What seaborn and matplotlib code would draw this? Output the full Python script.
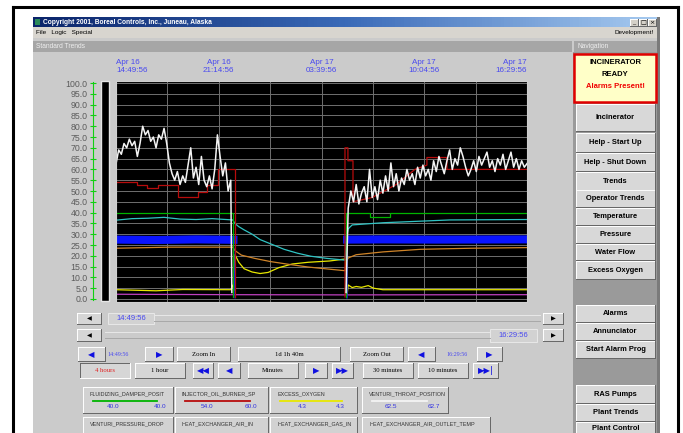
import numpy as np
import pandas as pd
import matplotlib
matplotlib.use('Agg')
import matplotlib.pyplot as plt
from matplotlib.patches import Rectangle
from matplotlib.lines import Line2D
from matplotlib.colors import LinearSegmentedColormap
import matplotlib.transforms as mtrans
import seaborn as sns

# trend samples, minutes after Apr 16 14:49:56 (window = 1d 1h 40m)
white_t1 = list(range(0, 440, 10)) + [434]
white_v1 = [62.5, 69, 67, 72, 70, 74, 71, 73, 66, 72,
            80, 76, 78, 73, 75, 70, 76, 74, 79, 72,
            63, 58, 55, 59, 53, 57, 54, 62, 70, 56,
            61, 53, 66, 55, 52, 57, 51, 60, 76, 66,
            57, 63, 50, 55, 3]
white_t2 = [862] + list(range(870, 1550, 10))
white_v2 = [3, 42, 50, 45, 53, 44, 49, 52, 45, 60, 47,
            52, 46, 55, 49, 57, 50, 63, 52, 58, 50,
            56, 53, 60, 55, 58, 53, 61, 56, 62, 57,
            60, 55, 64, 59, 66, 62, 58, 64, 69, 60,
            65, 62, 70, 66, 61, 57, 60, 64, 59, 66,
            62, 65, 68, 61, 64, 59, 65, 62, 67, 60,
            64, 68, 61, 65, 60, 64, 61, 62.7]

red_t1 = [0, 79, 79, 116, 116, 157, 157, 232, 232, 307, 307, 341, 341, 382, 382, 446, 446]
red_v1 = [54, 54, 53, 53, 51.5, 51.5, 53, 53, 47, 47, 49.5, 49.5, 53, 53, 60, 60, 1]
red_t2 = [858, 858, 869, 869, 888, 888, 960, 1050, 1120, 1165, 1165, 1240, 1240, 1540]
red_v2 = [1, 70, 70, 64, 64, 45, 47, 53, 60, 62, 65.5, 65.5, 60, 60]

green_t1 = [0, 438, 438]
green_v1 = [40, 40, 1]
green_t2 = [862, 862, 952, 952, 1027, 1027, 1540]
green_v2 = [1, 40, 40, 38, 38, 40, 40]

cyan_t = [0, 60, 120, 180, 240, 300, 360, 438, 445, 460, 480, 510, 540, 580, 630, 680,
          730, 790, 858, 864, 870, 885, 1000, 1250, 1540]
cyan_v = [36.5, 37.2, 37.4, 37.8, 37.0, 36.8, 37.2, 36.6, 35, 33.5, 32, 30, 27.5, 25.5, 23, 21.2,
          19.8, 18.8, 18, 28, 32.5, 34.3, 35.3, 36.6, 36.8]

blue_t1 = [0, 150, 300, 440, 446]
blue_v1 = [27.5, 27.3, 27.6, 27.4, 0.5]
blue_t2 = [866, 866, 1000, 1200, 1540]
blue_v2 = [0.5, 27.5, 27.6, 27.5, 27.6]

orange_t = [0, 200, 438, 445, 470, 520, 580, 650, 720, 800, 858, 862, 870, 900, 1000, 1140, 1330, 1540]
orange_v = [23.5, 24, 24, 22.5, 20.3, 18.8, 17.3, 16, 14.8, 13.8, 13.1, 17, 19, 20.5, 21.8, 23, 23.5, 23.8]

yellow_t = [0, 150, 250, 430, 438, 442, 446, 460, 480, 510, 540, 570, 610, 660, 720, 800, 858,
            862, 866, 870, 885, 900, 920, 945, 965, 1000, 1540]
yellow_v = [4.3, 3.8, 4.4, 4.3, 6.5, 4, 20.5, 17, 14, 12.5, 11.8, 12.3, 14.5, 16.2, 17, 17.6, 18.5,
            18, 2, 6.5, 5.3, 5.8, 5.4, 6.2, 5, 4.3, 4.3]

purple_t = [0, 438, 862, 1540]
purple_v = [2.2, 2.0, 1.9, 2.0]

# x axis labels
time_ticks = [0, 385, 770, 1155, 1540]
date_lbl = ['Apr 16', 'Apr 16', 'Apr 17', 'Apr 17', 'Apr 17']
clock_lbl = ['14:49:56', '21:14:56', '03:39:56', '10:04:56', '16:29:56']

tags = {
    'HEAT_EXCHANGER_AIR_OUTLET_TEMP': ('#c040c0', [(purple_t, purple_v)]),
    'EXCESS_OXYGEN': ('#e8e800', [(yellow_t, yellow_v)]),
    'HEAT_EXCHANGER_GAS_IN': ('#d08428', [(orange_t, orange_v)]),
    'VENTURI_PRESSURE_DROP': ('#0a14ff', [(blue_t1, blue_v1), (blue_t2, blue_v2)]),
    'HEAT_EXCHANGER_AIR_IN': ('#30c4c4', [(cyan_t, cyan_v)]),
    'FLUIDIZING_DAMPER_POSIT': ('#00b400', [(green_t1, green_v1), (green_t2, green_v2)]),
    'INJECTOR_OIL_BURNER_SP': ('#b80c0c', [(red_t1, red_v1), (red_t2, red_v2)]),
    'VENTURI_THROAT_POSITION': ('#f4f4f4', [(white_t1, white_v1), (white_t2, white_v2)]),
}

rows = []
for tag, (col, parts) in tags.items():
    for k, (ts, vs) in enumerate(parts):
        for t, v in zip(ts, vs):
            rows.append((tag, k, t, v))
df = pd.DataFrame(rows, columns=['tag', 'seg', 't', 'v'])

W, H = 683, 433
fig = plt.figure(figsize=(W / 100, H / 100), dpi=100)
fig.patch.set_facecolor('white')


def fx(x):
    return x / W


def fy(y):
    return 1 - y / H


def box(x0, y0, x1, y1, fc, ec='none', lw=0.7, z=-1):
    fig.add_artist(Rectangle((fx(x0), fy(y1)), (x1 - x0) / W, (y1 - y0) / H,
                             transform=fig.transFigure, fc=fc, ec=ec, lw=lw, zorder=z))


def seg(xs, ys, color, lw=0.7, z=2):
    fig.add_artist(Line2D([fx(v) for v in xs], [fy(v) for v in ys],
                          transform=fig.transFigure, color=color, lw=lw, zorder=z))


def label(x, y, s, size=5.5, color='black', ha='center', weight='normal', family='Liberation Sans'):
    fig.text(fx(x), fy(y), s, ha=ha, va='center', fontsize=size, color=color,
             fontweight=weight, family=family, zorder=5)


def button(x0, y0, x1, y1, text='', color='black', size=5.5, weight='normal',
           family='Liberation Sans', face='#d6d6d6', sunken=False, ty=None):
    box(x0, y0, x1, y1, face, z=1)
    hi, lo = '#ffffff', '#666666'
    if sunken:
        hi, lo = lo, hi
    seg([x0, x1], [y0, y0], hi)
    seg([x0, x0], [y0, y1], hi)
    seg([x0, x1], [y1, y1], lo)
    seg([x1, x1], [y0, y1], lo)
    if text:
        if ty is None:
            ty = (y0 + y1) / 2 + 0.3
        label((x0 + x1) / 2, ty, text, size, color, weight=weight, family=family)


# window chrome
box(33, 17, 660, 433, '#cbcbcb', z=-5)
box(573, 52, 657, 433, '#9a9a9a', z=-4)
box(657, 17, 660, 433, '#7a7a7a', z=-4)
seg([12.5, 12.5], [433, 6.5], 'black', lw=2.2)
seg([12.5, 677.5], [6.5, 6.5], 'black', lw=2.2)
seg([677.5, 677.5], [6.5, 433], 'black', lw=2.2)

tax = fig.add_axes([fx(33), fy(27), 624 / W, 10 / H])
tax.imshow(np.linspace(0, 1, 200)[None, :], aspect='auto',
           cmap=LinearSegmentedColormap.from_list('tb', ['#0a246a', '#3a6ab8', '#a6caf0']))
tax.axis('off')
box(35, 19, 40, 25, '#2a8a5a', z=2)
label(43, 22, 'Copyright 2001, Boreal Controls, Inc., Juneau, Alaska', 4.8, 'white', ha='left', weight='bold')
for bx, sym in zip([630, 639, 648], ['_', '\u25a1', '\u00d7']):
    button(bx, 19, bx + 8, 26, sym, size=4.5, family='DejaVu Sans', face='#d4d0c8')

box(33, 27, 657, 38, '#d8d5cf', z=-3)
label(36, 32.5, 'File   Logic   Special', 4.6, ha='left')
label(654, 32.5, 'Development!', 4.6, ha='right')
box(33, 41, 572, 52, '#a6a6a6', z=-3)
label(36, 46.5, 'Standard Trends', 4.8, '#eeeeee', ha='left')
box(574, 41, 657, 52, '#a6a6a6', z=-3)
label(577, 46.5, 'Navigation', 4.8, '#eeeeee', ha='left')

# trend plot
ax = fig.add_axes([fx(116), fy(302), 411 / W, 221 / H])
ax.set_facecolor('black')
for tag, (col, parts) in tags.items():
    sub = df[df['tag'] == tag]
    lw = 1.1 if tag == 'VENTURI_THROAT_POSITION' else 0.9
    sns.lineplot(data=sub, x='t', y='v', units='seg', estimator=None, sort=False,
                 color=col, linewidth=lw, ax=ax, legend=False)
    if tag == 'VENTURI_PRESSURE_DROP':
        band = sub[sub['v'] > 20]
        sns.lineplot(data=band, x='t', y='v', units='seg', estimator=None, sort=False,
                     color=col, linewidth=5.8, ax=ax, legend=False)
ax.set_xlim(0, 1540)
ax.set_ylim(-1.39, 100.93)
ax.set_xticks(np.arange(0, 1541, 192.5))
ax.set_yticks(range(0, 101, 5))
ax.tick_params(length=0, labelbottom=False, labelleft=False)
ax.grid(True, color='#707070', lw=0.7)
ax.set_axisbelow(True)
ax.set_xlabel('')
ax.set_ylabel('')
for s in ax.spines.values():
    s.set_color('#d0d0d0')
    s.set_linewidth(0.8)

tr = mtrans.blended_transform_factory(ax.transData, fig.transFigure)
for i, (t, d, c) in enumerate(zip(time_ticks, date_lbl, clock_lbl)):
    ha = 'left' if i == 0 else ('right' if i == len(time_ticks) - 1 else 'center')
    for yy, s in [(62.5, d), (71, c)]:
        ax.text(t, fy(yy), s, transform=tr, ha=ha, va='center', fontsize=5.8,
                color='#4848f0', family='Liberation Sans')

# green value scale
sax = fig.add_axes([fx(93), fy(302), 0.5 / W, 221 / H])
sax.set_ylim(-1.39, 100.93)
sax.set_xticks([])
sax.set_yticks(range(0, 101, 5))
sax.set_yticklabels([f'{v:.1f}' for v in range(0, 101, 5)], family='Liberation Sans')
sax.tick_params(axis='y', direction='inout', length=4, width=0.8, color='#10d010',
                labelcolor='#5c5c5c', labelsize=6.3, pad=2)
sax.patch.set_visible(False)
for k, s in sax.spines.items():
    s.set_visible(k == 'left')
sax.spines['left'].set_color('#10d010')
sax.spines['left'].set_bounds(-0.5, 100.5)
box(101, 81, 109, 301, 'black', ec='#e6e6e6', lw=1, z=1)

# scroll bars
button(77, 313, 101, 324, '\u25c0', size=4.5, family='DejaVu Sans')
box(108, 313, 154, 324, '#d2d2d2', ec='#e8e8e8', z=1)
label(131, 318.5, '14:49:56', 5.5, '#4848f0')
seg([154, 540], [315, 315], '#e8e8e8')
seg([154, 540], [321, 321], '#a8a8a8')
button(543, 313, 563, 324, '\u25b6', size=4.5, family='DejaVu Sans')
button(77, 329, 101, 341, '\u25c0', size=4.5, family='DejaVu Sans')
seg([105, 490], [332, 332], '#e8e8e8')
seg([105, 490], [338, 338], '#a8a8a8')
box(490, 329, 537, 342, '#d2d2d2', ec='#e8e8e8', z=1)
label(513, 335.5, '16:29:56', 5.5, '#4848f0')
button(543, 329, 563, 341, '\u25b6', size=4.5, family='DejaVu Sans')

# navigation buttons under the plot
arrow = dict(color='#1010e0', size=6, family='DejaVu Sans')
serif = dict(size=4.8, family='Liberation Serif')
button(78, 347, 105, 361, '\u25c0', **arrow)
label(118, 354, '14:49:56', 4.3, '#4848f0', family='Liberation Serif')
button(145, 347, 173, 361, '\u25b6', **arrow)
button(177, 347, 230, 361, 'Zoom In', **serif)
button(238, 347, 340, 361, '1d 1h 40m', **serif)
button(350, 347, 403, 361, 'Zoom Out', **serif)
button(408, 347, 435, 361, '\u25c0', **arrow)
label(457, 354, '16:29:56', 4.3, '#4848f0', family='Liberation Serif')
button(477, 347, 502, 361, '\u25b6', **arrow)

button(80, 363, 130, 378, '4 hours', color='#e02020', size=4.8, family='Liberation Serif', sunken=True)
button(135, 363, 185, 378, '1 hour', **serif)
button(193, 363, 213, 378, '\u25c0\u25c0', **arrow)
button(218, 363, 240, 378, '\u25c0', **arrow)
button(248, 363, 298, 378, 'Minutes', **serif)
button(305, 363, 327, 378, '\u25b6', **arrow)
button(332, 363, 353, 378, '\u25b6\u25b6', **arrow)
button(363, 363, 413, 378, '30 minutes', **serif)
button(418, 363, 468, 378, '10 minutes', **serif)
button(473, 363, 498, 378, '\u25b6\u25b6|', **arrow)

# legend tiles
tile_x = [(83, 173), (175, 268), (270, 357), (362, 448)]
line_x = [(93, 157), (185, 250), (280, 342), (372, 427)]
val_x = [(113, 160), (207, 251), (302, 340), (391, 434)]
row1 = ['FLUIDIZING_DAMPER_POSIT', 'INJECTOR_OIL_BURNER_SP', 'EXCESS_OXYGEN', 'VENTURI_THROAT_POSITION']
row2 = ['VENTURI_PRESSURE_DROP', 'HEAT_EXCHANGER_AIR_IN', 'HEAT_EXCHANGER_GAS_IN', 'HEAT_EXCHANGER_AIR_OUTLET_TEMP']
for (x0, x1), (l0, l1), (v0, v1), tag in zip(tile_x, line_x, val_x, row1):
    button(x0, 387, x1, 413, face='#d2d2d2')
    label(x0 + 7, 393.5, tag, 3.9, '#333333', ha='left')
    seg([l0, l1], [400.5, 400.5], tags[tag][0], lw=1.3)
    vals = df[df['tag'] == tag]['v'].to_numpy()
    label(v0, 407, f'{vals[0]:.1f}', 4.6, '#3030e0')
    label(v1, 407, f'{vals[-1]:.1f}', 4.6, '#3030e0')
for (x0, x1), tag in zip(tile_x, row2):
    if tag == row2[-1]:
        x1 = 490
    button(x0, 417, x1, 440, face='#d2d2d2')
    label(x0 + 7, 423.5, tag, 3.9, '#333333', ha='left')

# navigation panel
box(574, 54, 656, 102, '#ffffc8', ec='#e00000', lw=1.8, z=1)
label(615, 63, 'INCINERATOR', 5.5, weight='bold')
label(615, 74.5, 'READY', 5.5, weight='bold')
label(615, 87, 'Alarms Present!', 5.5, '#f00000', weight='bold')
nav = [('Incinerator', 104, 131), ('Help - Start Up', 133, 152), ('Help - Shut Down', 153, 171),
       ('Trends', 172, 190), ('Operator Trends', 190, 207), ('Temperature', 208, 225),
       ('Pressure', 226, 243), ('Water Flow', 244, 260), ('Excess Oxygen', 261, 279),
       ('Alarms', 305, 322), ('Annunciator', 323, 340), ('Start Alarm Prog', 341, 358),
       ('RAS Pumps', 385, 403), ('Plant Trends', 404, 421), ('Plant Control', 422, 440)]
for name, y0, y1 in nav:
    ty = 428.5 if name == 'Plant Control' else None
    button(576, y0, 655, y1, name, size=5.4, weight='bold', face='#d8d8d8', ty=ty)

fig.savefig('out.png', dpi=100, facecolor='white')
